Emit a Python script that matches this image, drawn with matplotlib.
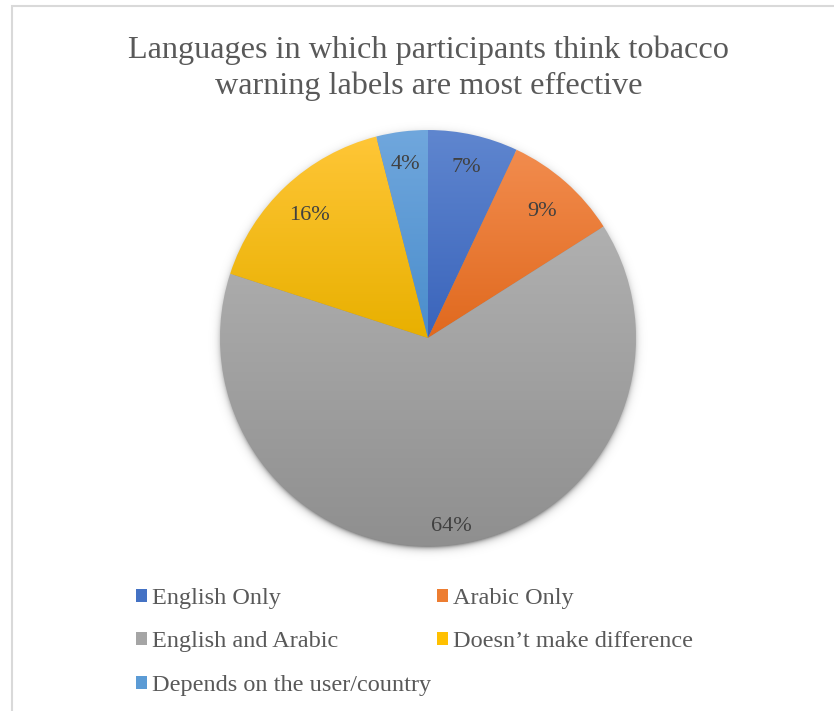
import matplotlib.pyplot as plt
import numpy as np
from matplotlib.colors import to_rgb
from matplotlib.patches import Rectangle

plt.rcParams["font.family"] = ["Liberation Serif", "DejaVu Serif"]

categories = ["English Only", "Arabic Only", "English and Arabic",
              "Doesn\u2019t make difference", "Depends on the user/country"]
shares = [7, 9, 64, 16, 4]

# top / bottom colours of the vertical gradient on each slice
top_colors = ["#5f86cf", "#f28c4e", "#b0b0b0", "#ffc637", "#70a7dd"]
bottom_colors = ["#3a64bb", "#e0691e", "#8f8f8f", "#e8b000", "#4a8dcc"]
mid_colors = ["#4472c4", "#ed7d31", "#a5a5a5", "#ffc000", "#5b9bd5"]
# radial position of each percentage label, as a fraction of the radius
label_dist = [0.855, 0.83, 0.9, 0.83, 0.855]

W, H = 834, 711
cx, cy, R = 428, H - 338, 208


def gradient(c_top, c_bot, n=256):
    t = np.linspace(0, 1, n)[:, None]
    a, b = np.array(to_rgb(c_top)), np.array(to_rgb(c_bot))
    return (a * (1 - t) + b * t)[:, None, :]


fig = plt.figure(figsize=(W / 100, H / 100), dpi=100)
ax = fig.add_axes([0, 0, 1, 1])

wedges, texts, autotexts = ax.pie(
    shares, colors=mid_colors, startangle=90, counterclock=False,
    center=(cx, cy), radius=R, autopct="%1.0f%%", pctdistance=0.86,
    wedgeprops=dict(linewidth=0),
    textprops=dict(fontsize=16, color="#404040"))

for w, ct, cb in zip(wedges, top_colors, bottom_colors):
    x0, y0, x1, y1 = w.get_path().get_extents().extents
    im = ax.imshow(gradient(ct, cb), extent=(x0, x1, y0, y1), origin="upper",
                   aspect="auto", zorder=1.5, interpolation="bilinear")
    im.set_clip_path(w)
    w.set_facecolor("none")

for w, t, f in zip(wedges, autotexts, label_dist):
    ang = np.deg2rad((w.theta1 + w.theta2) / 2)
    t.set_position((cx + f * R * np.cos(ang), cy + f * R * np.sin(ang) - 3))
    t.set_zorder(4)

# soft drop shadow under the pie
xs = np.arange(cx - R - 30, cx + R + 30)
ys = np.arange(cy - R - 30, cy + R + 30)
X, Y = np.meshgrid(xs, ys)
d = np.hypot(X - cx, Y - (cy - 3))
alpha = 0.45 * np.exp(-np.clip(d - R + 2, 0, None) / 3.0)
shadow = np.zeros(X.shape + (4,))
shadow[..., 3] = alpha
ax.imshow(shadow, extent=(xs[0], xs[-1], ys[0], ys[-1]), origin="lower",
          aspect="auto", zorder=0.5, interpolation="bilinear")

ax.set_xlim(0, W)
ax.set_ylim(0, H)
ax.set_aspect("auto")
ax.axis("off")

# chart area border
ax.add_patch(Rectangle((12, -20), W + 40, H - 5.5 + 20, fill=False,
                       edgecolor="#d9d9d9", linewidth=1.5, zorder=5))

ax.text(429, H - 68, "Languages in which participants think tobacco\n"
        "warning labels are most effective", ha="center", va="center",
        fontsize=23.2, color="#595959", linespacing=1.3)

# legend reads row by row: two entries per row
order = [0, 2, 4, 1, 3]
handles = [Rectangle((0, 0), 1, 1, facecolor=mid_colors[i], edgecolor="none")
           for i in order]
ax.legend(handles, [categories[i] for i in order], ncol=2,
          loc="upper left", bbox_to_anchor=(136, H - 588),
          bbox_transform=ax.transData, frameon=False, fontsize=17.5,
          labelcolor="#595959", handlelength=0.45, handleheight=0.45,
          handletextpad=0.2, labelspacing=0.92, columnspacing=0.27,
          borderpad=0, borderaxespad=0)

fig.savefig("out.png", dpi=100)
